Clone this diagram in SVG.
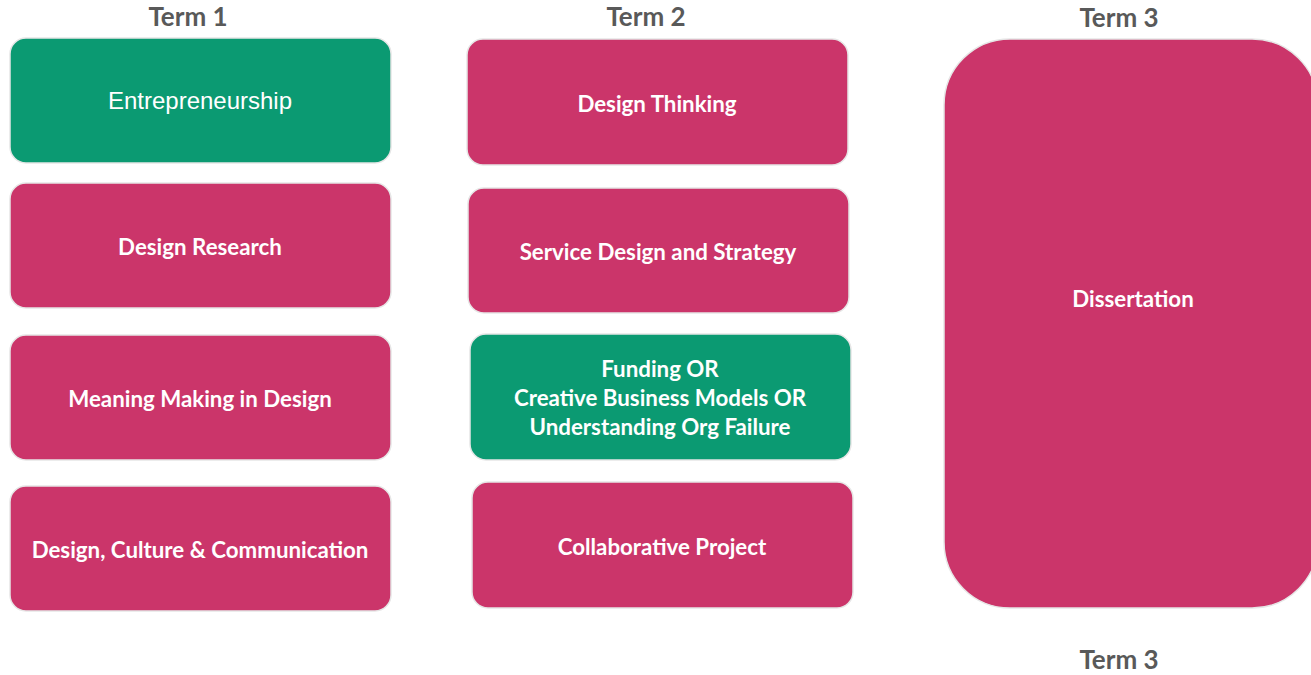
<svg xmlns="http://www.w3.org/2000/svg" width="1311" height="675" viewBox="0 0 1311 675">
<style>
.title{font-family:Lato,"Open Sans",sans-serif;font-weight:bold;font-size:26px;fill:#595959;text-anchor:middle}
.pink{fill:#CB356A;stroke:#E6E6E6;stroke-width:1.5}
.green{fill:#0B9A72;stroke:#E6E6E6;stroke-width:1.5}
.lbl{font-family:Lato,"Open Sans",sans-serif;font-weight:bold;font-size:22.3px;fill:#FFFFFF;text-anchor:middle}
.lbl2{font-family:"Liberation Sans",Arial,sans-serif;font-size:24px;fill:#FFFFFF;text-anchor:middle}
</style>
<rect width="1311" height="675" fill="#FFFFFF"/>
<g id="titles">
<text class="title" x="188" y="26">Term 1</text>
<text class="title" x="646" y="26">Term 2</text>
<text class="title" x="1119" y="27">Term 3</text>
<text class="title" x="1119" y="669">Term 3</text>
</g>
<g id="entrepreneurship"><rect class="green" x="10" y="38" width="381" height="125" rx="16"/><text class="lbl2" x="200" y="109">Entrepreneurship</text></g>
<g id="design-research"><rect class="pink" x="10" y="183" width="381" height="125" rx="16"/><text class="lbl" x="200" y="255">Design Research</text></g>
<g id="meaning-making"><rect class="pink" x="10" y="335" width="381" height="125" rx="16"/><text class="lbl" x="200" y="407">Meaning Making in Design</text></g>
<g id="design-culture"><rect class="pink" x="10" y="486" width="381" height="125" rx="16"/><text class="lbl" x="200" y="558">Design, Culture &amp; Communication</text></g>
<g id="design-thinking"><rect class="pink" x="467" y="39" width="381" height="126" rx="16"/><text class="lbl" x="657" y="112">Design Thinking</text></g>
<g id="service-design"><rect class="pink" x="468" y="188" width="381" height="125" rx="16"/><text class="lbl" x="658" y="260">Service Design and Strategy</text></g>
<g id="funding"><rect class="green" x="470" y="334" width="381" height="126" rx="16"/><text class="lbl" x="660" y="377">Funding OR</text><text class="lbl" x="660" y="406">Creative Business Models OR</text><text class="lbl" x="660" y="435">Understanding Org Failure</text></g>
<g id="collaborative"><rect class="pink" x="472" y="482" width="381" height="126" rx="16"/><text class="lbl" x="662" y="555">Collaborative Project</text></g>
<g id="dissertation"><rect class="pink" x="944" y="39" width="374" height="569" rx="66"/><text class="lbl" x="1133" y="307">Dissertation</text></g>
<g id="connectors"></g>
</svg>
